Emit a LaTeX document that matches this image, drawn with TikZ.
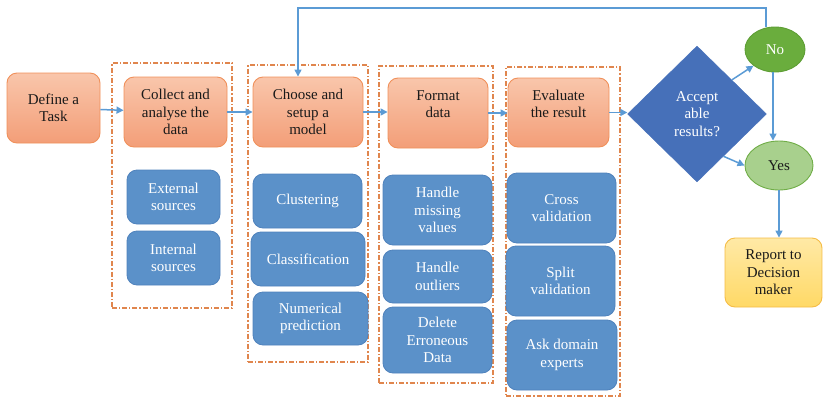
\documentclass[tikz,border=0pt]{standalone}
\usepackage{fontspec}
\setmainfont{Liberation Serif}
\usetikzlibrary{shapes.geometric,arrows.meta,calc}
\definecolor{otop}{HTML}{F9C6AB}
\definecolor{obot}{HTML}{F39E78}
\definecolor{oline}{HTML}{F0905A}
\definecolor{bfill}{HTML}{5B91C9}
\definecolor{bline}{HTML}{4F82BC}
\definecolor{grpc}{HTML}{E0864E}
\definecolor{arrc}{HTML}{5B9BD5}
\definecolor{diac}{HTML}{4670B9}
\definecolor{nofill}{HTML}{6AAD3D}
\definecolor{noline}{HTML}{5E9E35}
\definecolor{yesfill}{HTML}{A8D08D}
\definecolor{yesline}{HTML}{70AD47}
\definecolor{rtop}{HTML}{FFE9A6}
\definecolor{rbot}{HTML}{FFD966}
\definecolor{rline}{HTML}{F5BC45}
\definecolor{txt}{HTML}{1A1A1A}
\tikzset{
  base/.style={font=\fontsize{15}{17.5}\selectfont, align=center, inner sep=2pt},
  obox/.style={base, rounded corners=10pt, draw=oline, line width=0.9pt, top color=otop, bottom color=obot, text=txt},
  bbox/.style={base, rounded corners=10pt, draw=bline, line width=0.8pt, fill=bfill, text=white},
  grp/.style={draw=grpc, line width=1.1pt, dash pattern=on 5pt off 2pt on 1.2pt off 2pt},
  arr/.style={draw=arrc, line width=1.5pt, -{Triangle[length=7pt,width=7pt]}},
  sz/.style 2 args={minimum width=#1pt, minimum height=#2pt}
}
\begin{document}
\begin{tikzpicture}[x=1pt,y=-1pt]
\useasboundingbox (0,0) rectangle (823,397);
% groups
\node[grp, sz={120}{245}] (g1) at (172,185.5) {};
\node[grp, sz={120}{297}] (g2) at (308,213.5) {};
\node[grp, sz={114}{317}] (g3) at (436,224.5) {};
\node[grp, sz={114}{329}] (g4) at (563,231.5) {};
% main boxes
\node[obox, sz={93}{70}] (define) at (53.5,108) {Define a\\Task};
\node[obox, sz={103}{70}] (collect) at (175.5,112) {Collect and\\analyse the\\data};
\node[obox, sz={110}{70}] (choose) at (308,112) {Choose and\\setup a\\model};
\node[obox, sz={100}{70}] (format) at (438,113) {Format\\data\\\mbox{}};
\node[obox, sz={101}{69}] (evaluate) at (558.5,112.5) {Evaluate\\the result\\\mbox{}};
% sub boxes
\node[bbox, sz={93}{54}] (ext) at (173.5,197) {External\\sources};
\node[bbox, sz={93}{54}] (int) at (173.5,258) {Internal\\sources};
\node[bbox, sz={109}{54}] (clust) at (307.5,201) {Clustering};
\node[bbox, sz={114}{54}] (classif) at (308,259) {Classification};
\node[bbox, sz={115}{53}] (numpred) at (310.5,318.5) {Numerical\\prediction};
\node[bbox, sz={109}{70}] (missing) at (437.5,210) {Handle\\missing\\values};
\node[bbox, sz={109}{53}] (outliers) at (437.5,276.5) {Handle\\outliers};
\node[bbox, sz={109}{66}] (delete) at (437.5,340) {Delete\\Erroneous\\Data};
\node[bbox, sz={109}{70}] (cross) at (561.5,208) {Cross\\validation};
\node[bbox, sz={109}{70}] (split) at (560.5,281) {Split\\validation};
\node[bbox, sz={110}{70}] (ask) at (562,355) {Ask domain\\experts};
% decision
\node[base, diamond, draw=diac, fill=diac, text=white, inner sep=0pt, sz={139}{136}] (dia) at (697,114) {Accept\\able\\results?};
\node[base, ellipse, draw=noline, line width=0.9pt, fill=nofill, text=white, inner sep=0pt, sz={60}{45}] (no) at (775,49.5) {No};
\node[base, ellipse, draw=yesline, line width=0.9pt, fill=yesfill, text=txt, inner sep=0pt, sz={68}{49}] (yes) at (779,165.5) {Yes};
\node[base, rounded corners=10pt, draw=rline, line width=0.9pt, top color=rtop, bottom color=rbot, text=txt, sz={97}{69}] (report) at (773.5,272.5) {Report to\\Decision\\maker};
% arrows
\coordinate (topline) at (0,8);
\draw[arr] (define) -- (collect);
\draw[arr] (collect) -- (choose.west |- collect);
\draw[arr] (choose) -- (format.west |- choose);
\draw[arr] (format) -- (evaluate.west |- format);
\draw[arr] (evaluate) -- (dia.west |- evaluate);
\draw[arr] ($(dia.north)!0.5!(dia.east)$) -- (no.south west);
\draw[arr] ($(dia.east)!0.62!(dia.south)$) -- (yes.west);
\draw[arr] ([xshift=-2pt]no.south) -- ([xshift=-2pt]no.south |- yes.north);
\draw[arr] (yes.south) -- (yes.south |- report.north);
\draw[arr] ([xshift=-9pt]no.north) -- ([xshift=-9pt]no.north |- topline) -| ([xshift=-10pt]choose.north);
\end{tikzpicture}
\end{document}
